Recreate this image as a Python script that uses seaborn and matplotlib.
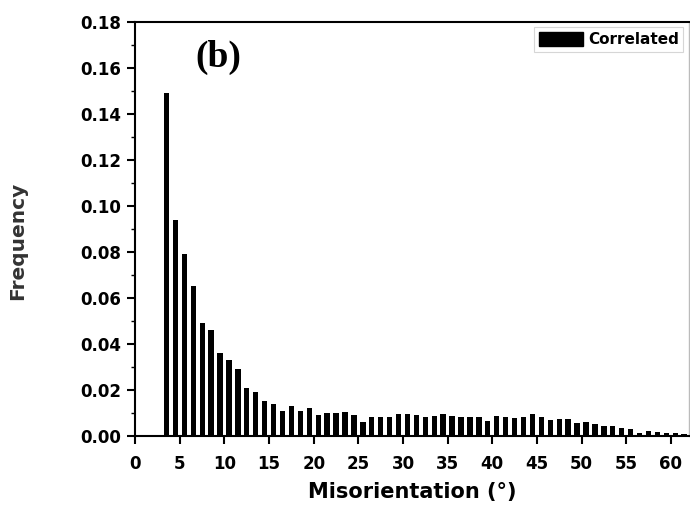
import matplotlib
matplotlib.use("Agg")
import matplotlib.pyplot as plt
from matplotlib.ticker import MultipleLocator
from matplotlib.patches import Patch
import seaborn as sns
import pandas as pd

# Data (bin centres in degrees, frequency)
misorientation = [3.5, 4.5, 5.5, 6.5, 7.5, 8.5, 9.5, 10.5, 11.5, 12.5,
                  13.5, 14.5, 15.5, 16.5, 17.5, 18.5, 19.5, 20.5, 21.5, 22.5,
                  23.5, 24.5, 25.5, 26.5, 27.5, 28.5, 29.5, 30.5, 31.5, 32.5,
                  33.5, 34.5, 35.5, 36.5, 37.5, 38.5, 39.5, 40.5, 41.5, 42.5,
                  43.5, 44.5, 45.5, 46.5, 47.5, 48.5, 49.5, 50.5, 51.5, 52.5,
                  53.5, 54.5, 55.5, 56.5, 57.5, 58.5, 59.5, 60.5, 61.5]
frequency = [0.149, 0.094, 0.079, 0.065, 0.049, 0.046, 0.036, 0.033, 0.029, 0.021,
             0.019, 0.015, 0.014, 0.011, 0.013, 0.011, 0.012, 0.009, 0.010, 0.010,
             0.0104, 0.009, 0.0062, 0.0084, 0.0084, 0.0084, 0.0094, 0.0094, 0.0091, 0.0084,
             0.0087, 0.0094, 0.0087, 0.0084, 0.0080, 0.0084, 0.0064, 0.0086, 0.0084, 0.0077,
             0.0084, 0.0096, 0.0084, 0.0070, 0.0074, 0.0074, 0.0058, 0.0060, 0.0052, 0.0045,
             0.0041, 0.0035, 0.0029, 0.0012, 0.0019, 0.0017, 0.0012, 0.0012, 0.0006]
series_name = "Correlated"
x_ticks = list(range(0, 61, 5))
y_ticks = [0.00, 0.02, 0.04, 0.06, 0.08, 0.10, 0.12, 0.14, 0.16, 0.18]

df = pd.DataFrame({"Misorientation": misorientation, "Frequency": frequency})

sns.set_style("ticks")
plt.rcParams["font.family"] = ["DejaVu Sans"]
plt.rcParams["text.color"] = "black"
plt.rcParams["xtick.color"] = "black"
plt.rcParams["ytick.color"] = "black"
plt.rcParams["axes.labelcolor"] = "black"

fig = plt.figure(figsize=(6.90, 5.08), dpi=100)
ax = fig.add_axes([0.196, 0.142, 0.802, 0.815])

sns.barplot(data=df, x="Misorientation", y="Frequency", native_scale=True,
            color="black", width=0.6, saturation=1, edgecolor="black",
            linewidth=0, ax=ax)

ax.set_xlim(0, 62)
ax.set_ylim(0, 0.18)
ax.set_xticks(x_ticks)
ax.set_yticks(y_ticks)
ax.set_yticklabels([f"{v:.2f}" for v in y_ticks])
ax.yaxis.set_minor_locator(MultipleLocator(0.01))

for s in ax.spines.values():
    s.set_linewidth(1.5)
    s.set_color("black")
    s.set_visible(True)
ax.spines["right"].set_color("#bbbbbb")
ax.spines["right"].set_linewidth(1.0)

ax.tick_params(axis="both", which="major", direction="out", length=6, width=1.5,
               labelsize=12, labelcolor="black")
ax.tick_params(axis="x", which="major", pad=8)
ax.tick_params(axis="y", which="major", pad=4)
ax.tick_params(axis="both", which="minor", direction="out", length=3, width=1.0)
for lab in ax.get_xticklabels() + ax.get_yticklabels():
    lab.set_fontweight("bold")

ax.set_xlabel("Misorientation (°)", fontsize=15, fontweight="bold", labelpad=6)
ax.set_ylabel("Frequency", fontsize=14.5, fontweight="bold", color="#333333")
ax.yaxis.set_label_coords(-0.196, 0.47)

ax.text(0.150, 0.915, "(b)", transform=ax.transAxes, fontsize=27,
        fontweight="bold", family=["Liberation Serif", "DejaVu Serif"],
        ha="center", va="center")

handle = Patch(facecolor="black", edgecolor="black", label=series_name)
leg = ax.legend(handles=[handle], loc="upper right",
                frameon=True, fancybox=False, handlelength=2.9, handleheight=1.1,
                borderpad=0.3, handletextpad=0.3, borderaxespad=0.35,
                prop={"weight": "bold", "size": 11})
leg.get_frame().set_edgecolor("#cccccc")
leg.get_frame().set_linewidth(0.8)

fig.savefig("out.png", dpi=100)
